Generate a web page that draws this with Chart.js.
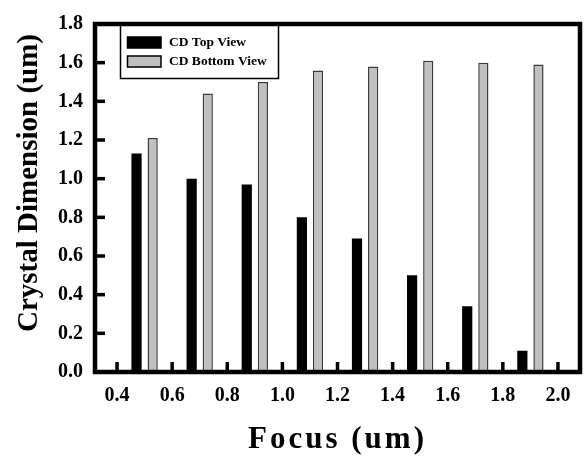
<!DOCTYPE html>
<html><head><meta charset="utf-8">
<script src="https://cdn.jsdelivr.net/npm/chart.js@4/dist/chart.umd.min.js"></script>
<style>html,body{margin:0;padding:0;background:#fff;overflow:hidden}</style>
</head><body>
<canvas id="c" width="586" height="459" style="display:block;width:586px;height:459px"></canvas>
<script>
// ---- data ----
const focusPositions = [0.5, 0.7, 0.9, 1.1, 1.3, 1.5, 1.7, 1.9];
const cdTopView      = [1.13, 1.00, 0.97, 0.80, 0.69, 0.50, 0.34, 0.11];
const cdBottomView   = [1.21, 1.44, 1.50, 1.56, 1.58, 1.61, 1.60, 1.59];
const xTickValues = [0.4, 0.6, 0.8, 1.0, 1.2, 1.4, 1.6, 1.8, 2.0];
const yTickValues = [0, 0.2, 0.4, 0.6, 0.8, 1.0, 1.2, 1.4, 1.6, 1.8];
const seriesLabels = ['CD Top View', 'CD Bottom View'];
const xTitle = 'Focus (um)';
const yTitle = 'Crystal Dimension (um)';

const SERIF = "'Liberation Serif','Times New Roman',serif";

const titlePatch = {
  id: 'titlePatch',
  beforeDraw(chart) {
    const xs = chart.scales.x, ys = chart.scales.y;
    if (!xs._patched) {
      const o = xs.drawTitle;
      xs.drawTitle = function () { const c = this.ctx; c.save(); c.letterSpacing = '3px'; o.call(this); c.restore(); };
      xs._patched = true;
    }
    if (!ys._patched) {
      const o = ys.drawTitle;
      ys.drawTitle = function () { const c = this.ctx; c.save(); c.translate(0, -15); o.call(this); c.restore(); };
      ys._patched = true;
    }
  }
};

const frameLegend = {
  id: 'frameLegend',
  afterDatasetsDraw(chart) {
    const {ctx, chartArea: a, scales: {x, y}} = chart;
    ctx.save();
    ctx.strokeStyle = '#000';
    ctx.lineWidth = 3.5;
    ctx.lineCap = 'butt';
    for (const v of xTickValues) {
      const px = x.getPixelForValue(v);
      ctx.beginPath(); ctx.moveTo(px, a.bottom); ctx.lineTo(px, a.bottom - 10); ctx.stroke();
    }
    for (const v of yTickValues) {
      const py = y.getPixelForValue(v);
      ctx.beginPath(); ctx.moveTo(a.left, py); ctx.lineTo(a.left + 10, py); ctx.stroke();
    }
    ctx.lineWidth = 4.5;
    ctx.strokeRect(a.left, a.top, a.right - a.left, a.bottom - a.top);

    // legend box
    const bx = 120.5, by = 25.5, bw = 158, bh = 53;
    ctx.fillStyle = '#fff';
    ctx.fillRect(bx, by, bw, bh);
    ctx.lineWidth = 1.5;
    ctx.strokeRect(bx, by, bw, bh);
    const rows = [42.5, 61.5];
    ctx.font = 'bold 13.5px ' + SERIF;
    ctx.textBaseline = 'middle';
    ctx.textAlign = 'left';
    chart.data.datasets.forEach((ds, i) => {
      const cy = rows[i];
      ctx.fillStyle = ds.backgroundColor;
      ctx.fillRect(127.5, cy - 5.5, 33.5, 11);
      ctx.lineWidth = 1.5;
      ctx.strokeStyle = '#000';
      ctx.strokeRect(127.5, cy - 5.5, 33.5, 11);
      ctx.fillStyle = '#000';
      ctx.fillText(ds.label, 169, cy + 0.5);
    });
    ctx.restore();
  }
};

new Chart(document.getElementById('c'), {
  type: 'bar',
  data: {
    datasets: [
      {
        label: seriesLabels[0],
        data: focusPositions.map((f, i) => ({x: f, y: cdTopView[i]})),
        backgroundColor: '#000000',
        borderColor: '#000000',
        borderWidth: 0
      },
      {
        label: seriesLabels[1],
        data: focusPositions.map((f, i) => ({x: f, y: cdBottomView[i]})),
        backgroundColor: '#c0c0c0',
        borderColor: '#3a3a3a',
        borderWidth: 1.5
      }
    ]
  },
  options: {
    responsive: false,
    animation: false,
    devicePixelRatio: 1,
    categoryPercentage: 0.585,
    barPercentage: 0.633,
    layout: {padding: {top: 21, right: 6, left: 0, bottom: 0}},
    plugins: {legend: {display: false}, tooltip: {enabled: false}},
    scales: {
      x: {
        type: 'linear',
        min: 0.32, max: 2.08,
        offset: false,
        afterBuildTicks: s => { s.ticks = xTickValues.map(v => ({value: v})); },
        afterFit: s => { s.height = 87; },
        grid: {display: false, drawTicks: false},
        border: {display: false},
        ticks: {
          color: '#000', padding: 12,
          font: {family: SERIF, size: 20, weight: 'bold'},
          callback: v => Number(v).toFixed(1),
          maxRotation: 0, autoSkip: false
        },
        title: {display: true, text: xTitle, color: '#000',
          font: {family: SERIF, size: 31, weight: 'bold'}, padding: {top: 0, bottom: 0}}
      },
      y: {
        min: 0, max: 1.8,
        afterBuildTicks: s => { s.ticks = yTickValues.map(v => ({value: v})); },
        afterFit: s => { s.width = 95; },
        grid: {display: false, drawTicks: false},
        border: {display: false},
        ticks: {
          color: '#000', padding: 12,
          font: {family: SERIF, size: 20, weight: 'bold'},
          callback: v => Number(v).toFixed(1)
        },
        title: {display: true, text: yTitle, color: '#000',
          font: {family: SERIF, size: 29, weight: 'bold'}, padding: {top: 12, bottom: 0}}
      }
    }
  },
  plugins: [titlePatch, frameLegend]
});
</script>
</body></html>
